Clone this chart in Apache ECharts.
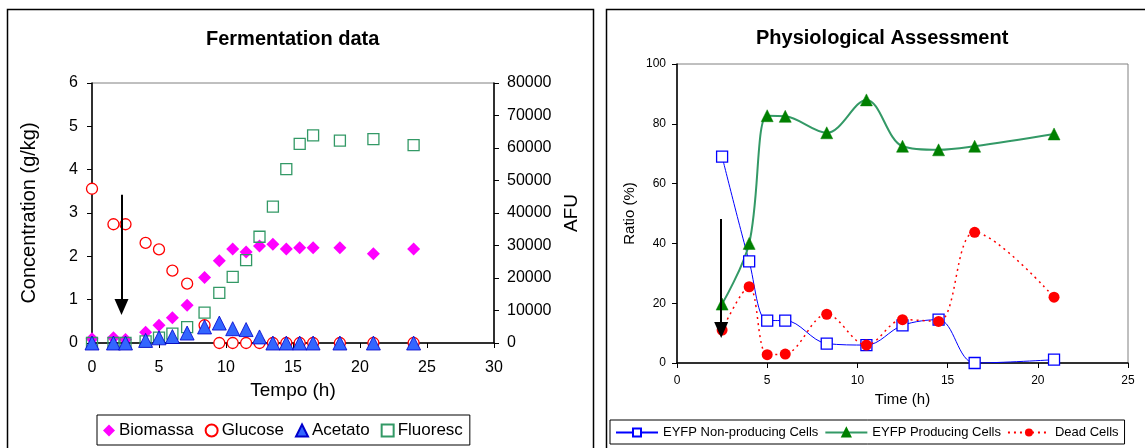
<!DOCTYPE html>
<html>
<head>
<meta charset="utf-8">
<script src="https://cdn.jsdelivr.net/npm/echarts@6/dist/echarts.min.js"></script>
<style>
html,body{margin:0;padding:0;background:#fff;}
#c{width:1145px;height:448px;}
</style>
</head>
<body>
<div id="c"></div>
<script>
// ---- Fermentation data ----
const tempo    = [0, 1.6, 2.5, 4, 5, 6, 7.1, 8.4, 9.5, 10.5, 11.5, 12.5, 13.5, 14.5, 15.5, 16.5, 18.5, 21, 24];
const biomassa = [0.1, 0.12, 0.08, 0.25, 0.41, 0.58, 0.87, 1.51, 1.9, 2.17, 2.1, 2.24, 2.28, 2.17, 2.2, 2.2, 2.2, 2.06, 2.17];
const glucose  = [3.56, 2.74, 2.74, 2.31, 2.16, 1.67, 1.37, 0.41, 0, 0, 0, 0, 0, 0, 0, 0, 0, 0, 0];
const acetato  = [0, 0, 0, 0.06, 0.12, 0.15, 0.23, 0.37, 0.46, 0.33, 0.31, 0.14, 0, 0, 0, 0, 0, 0, 0];
const fluoresc = [0, 0, 0, 500, 1650, 2900, 4900, 9350, 15430, 20360, 25500, 32700, 41950, 53470, 61300, 63860, 62300, 62720, 60870];
const arrowLeft = [[2.2, 3.42], [2.2, 0.83]];

// ---- Physiological assessment ----
const time2   = [2.5, 4, 5, 6, 8.3, 10.5, 12.5, 14.5, 16.5, 20.9];
const nonProd = [69, 34, 14.2, 14.2, 6.5, 6, 12.6, 14.5, 0, 1.1];
const prod    = [19.7, 40, 82.7, 82.5, 77, 88, 72.5, 71.3, 72.5, 76.6];
const dead    = [11, 25.5, 2.8, 3, 16.3, 6, 14.5, 13.9, 43.7, 22];
const arrowRight = [[2.45, 48.2], [2.45, 11]];

const FONT = '"Liberation Sans", Arial, sans-serif';
const zip = (xs, ys) => xs.map((x, i) => [x, ys[i]]);

const chart = echarts.init(document.getElementById('c'), null, {renderer: 'canvas'});

const arrowMark = (pts) => ({
  silent: true,
  animation: false,
  symbol: ['none', 'triangle'],
  symbolSize: [14, 16],
  label: {show: false},
  lineStyle: {color: '#000', width: 2, type: 'solid'},
  itemStyle: {color: '#000'},
  emphasis: {disabled: true},
  data: [[{coord: pts[0]}, {coord: pts[1]}]]
});

const option = {
  animation: false,
  textStyle: {fontFamily: FONT, color: '#000'},
  graphic: [
    {type: 'rect', shape: {x: 7.5, y: 9.5, width: 586, height: 470}, style: {fill: 'none', stroke: '#000', lineWidth: 1.5}, silent: true},
    {type: 'rect', shape: {x: 606.5, y: 9.5, width: 600, height: 470}, style: {fill: 'none', stroke: '#000', lineWidth: 1.5}, silent: true}
  ],
  title: [
    {text: 'Fermentation data', left: 206, top: 29, padding: 0,
     textStyle: {fontFamily: FONT, fontSize: 20, fontWeight: 'bold', color: '#000'}},
    {text: 'Physiological Assessment', left: 756, top: 28, padding: 0,
     textStyle: {fontFamily: FONT, fontSize: 20, fontWeight: 'bold', color: '#000'}}
  ],
  legend: [
    {left: 97, top: 415, padding: [7, 7, 6, 6], itemGap: 11, itemWidth: 12, itemHeight: 12,
     borderColor: '#000', borderWidth: 1, selectedMode: false,
     textStyle: {fontFamily: FONT, fontSize: 17, color: '#000', padding: [0, 0, 0, -1]},
     data: ['Biomassa', 'Glucose', 'Acetato', 'Fluoresc']},
    {left: 610, top: 420, padding: [6, 6, 5, 5], itemGap: 6, itemWidth: 42, itemHeight: 10,
     borderColor: '#000', borderWidth: 1, selectedMode: false,
     textStyle: {fontFamily: FONT, fontSize: 13, color: '#000'},
     data: ['EYFP Non-producing Cells', 'EYFP Producing Cells', 'Dead Cells']}
  ],
  grid: [
    {left: 92, top: 83, width: 402, height: 260, show: true, borderColor: '#808080', borderWidth: 1, containLabel: false},
    {left: 677, top: 64, width: 451, height: 299, show: true, borderColor: '#808080', borderWidth: 1, containLabel: false}
  ],
  xAxis: [
    {type: 'value', gridIndex: 0, min: 0, max: 30, interval: 5,
     name: 'Tempo (h)', nameLocation: 'middle', nameGap: 38,
     nameTextStyle: {fontFamily: FONT, fontSize: 19, color: '#000'},
     axisLine: {show: true, onZero: false, lineStyle: {color: '#000', width: 1.5}},
     axisTick: {show: true, length: 5, lineStyle: {color: '#000'}},
     axisLabel: {fontFamily: FONT, fontSize: 16, color: '#000', margin: 17},
     splitLine: {show: false}},
    {type: 'value', gridIndex: 1, min: 0, max: 25, interval: 5,
     name: 'Time (h)', nameLocation: 'middle', nameGap: 24,
     nameTextStyle: {fontFamily: FONT, fontSize: 15, color: '#000'},
     axisLine: {show: true, onZero: false, lineStyle: {color: '#000', width: 1.5}},
     axisTick: {show: true, length: 5, lineStyle: {color: '#000'}},
     axisLabel: {fontFamily: FONT, fontSize: 12, color: '#000', margin: 12},
     splitLine: {show: false}}
  ],
  yAxis: [
    {type: 'value', gridIndex: 0, min: 0, max: 6, interval: 1,
     name: 'Concentration (g/kg)', nameLocation: 'middle', nameGap: 53,
     nameTextStyle: {fontFamily: FONT, fontSize: 20, color: '#000'},
     axisLine: {show: true, onZero: false, lineStyle: {color: '#000', width: 1.5}},
     axisTick: {show: true, length: 5, lineStyle: {color: '#000'}},
     axisLabel: {fontFamily: FONT, fontSize: 16, color: '#000', margin: 14},
     splitLine: {show: false}},
    {type: 'value', gridIndex: 0, position: 'right', min: 0, max: 80000, interval: 10000,
     name: 'AFU', nameLocation: 'middle', nameGap: 68,
     nameTextStyle: {fontFamily: FONT, fontSize: 19, color: '#000'},
     axisLine: {show: true, onZero: false, lineStyle: {color: '#000', width: 1.5}},
     axisTick: {show: true, length: 5, lineStyle: {color: '#000'}},
     axisLabel: {fontFamily: FONT, fontSize: 16, color: '#000', margin: 13, formatter: (v) => String(v)},
     splitLine: {show: false}},
    {type: 'value', gridIndex: 1, min: 0, max: 100, interval: 20,
     name: 'Ratio (%)', nameLocation: 'middle', nameGap: 40,
     nameTextStyle: {fontFamily: FONT, fontSize: 15, color: '#000'},
     axisLine: {show: true, onZero: false, lineStyle: {color: '#000', width: 1.5}},
     axisTick: {show: true, length: 5, lineStyle: {color: '#000'}},
     axisLabel: {fontFamily: FONT, fontSize: 12, color: '#000', margin: 11},
     splitLine: {show: false}}
  ],
  series: [
    {name: 'Biomassa', type: 'scatter', xAxisIndex: 0, yAxisIndex: 0,
     symbol: 'diamond', symbolSize: 13, itemStyle: {color: '#ff00ff', opacity: 1},
     data: zip(tempo, biomassa), markLine: arrowMark(arrowLeft), z: 3},
    {name: 'Glucose', type: 'scatter', xAxisIndex: 0, yAxisIndex: 0,
     symbol: 'circle', symbolSize: 11,
     itemStyle: {color: '#ffffff', borderColor: '#ff0000', borderWidth: 1.3, opacity: 1},
     data: zip(tempo, glucose), z: 3},
    {name: 'Fluoresc', type: 'scatter', xAxisIndex: 0, yAxisIndex: 1,
     symbol: 'rect', symbolSize: 11,
     itemStyle: {color: 'rgba(255,255,255,0)', borderColor: '#339966', borderWidth: 1.3, opacity: 1},
     data: zip(tempo, fluoresc), z: 3},
    {name: 'Acetato', type: 'scatter', xAxisIndex: 0, yAxisIndex: 0,
     symbol: 'triangle', symbolSize: 14,
     itemStyle: {color: '#3366ff', borderColor: '#0000cc', borderWidth: 0.8, opacity: 1},
     data: zip(tempo, acetato), z: 4},

    {name: 'EYFP Non-producing Cells', type: 'line', xAxisIndex: 1, yAxisIndex: 2,
     smooth: 0.35, symbol: 'rect', symbolSize: 11, showAllSymbol: true,
     lineStyle: {color: '#0000ff', width: 1},
     itemStyle: {color: '#ffffff', borderColor: '#0000ff', borderWidth: 1.3},
     data: zip(time2, nonProd), z: 3},
    {name: 'EYFP Producing Cells', type: 'line', xAxisIndex: 1, yAxisIndex: 2,
     smooth: 0.35, symbol: 'triangle', symbolSize: 12, showAllSymbol: true,
     lineStyle: {color: '#339966', width: 2},
     itemStyle: {color: '#008000', borderColor: '#008000', borderWidth: 0.5},
     data: zip(time2, prod), z: 3},
    {name: 'Dead Cells', type: 'line', xAxisIndex: 1, yAxisIndex: 2,
     smooth: 0.35, symbol: 'circle', symbolSize: 11, showAllSymbol: true,
     lineStyle: {color: '#ff0000', width: 1.5, type: [2, 4]},
     itemStyle: {color: '#ff0000', borderColor: '#ff0000', borderWidth: 0},
     data: zip(time2, dead), markLine: arrowMark(arrowRight), z: 4}
  ]
};
chart.setOption(option);
</script>
</body>
</html>
